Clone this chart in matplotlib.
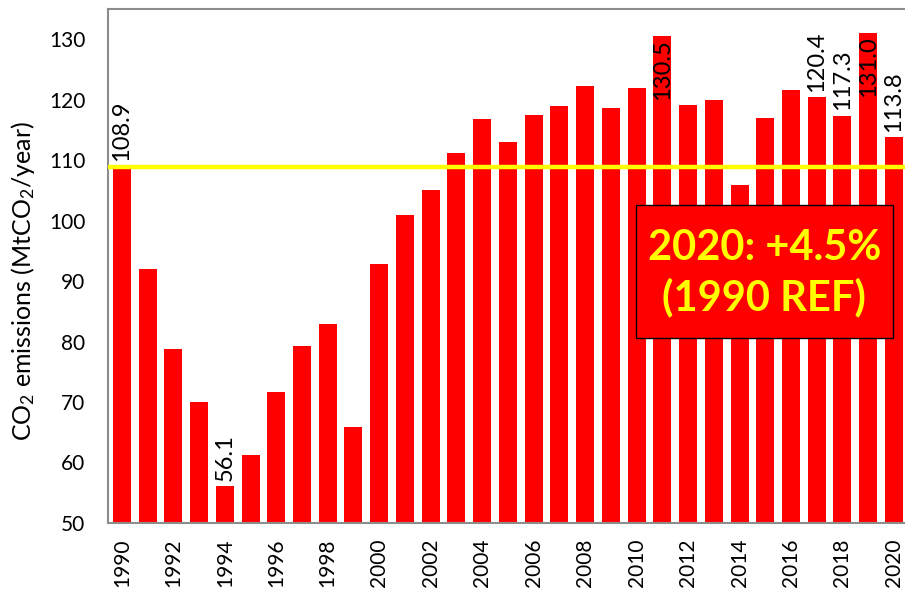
import matplotlib
matplotlib.use("Agg")
import matplotlib.pyplot as plt
import numpy as np

plt.rcParams['font.family'] = ['Lato', 'DejaVu Sans']
plt.rcParams['mathtext.fontset'] = 'custom'
plt.rcParams['mathtext.rm'] = 'Lato'
plt.rcParams['mathtext.it'] = 'Lato'

# --------------------------------------
# Data
# --------------------------------------
years = list(range(1990, 2021))
emissions = [108.9, 92.0, 78.8, 70.0, 56.1, 61.2, 71.7, 79.3, 82.9, 65.9,
             92.8, 100.9, 105.0, 111.1, 116.8, 113.0, 117.4, 118.9, 122.2, 118.6,
             121.9, 130.5, 119.1, 119.9, 105.9, 116.9, 121.6, 120.4, 117.3, 131.0,
             113.8]
labelled_years = [1990, 1994, 2011, 2017, 2018, 2019, 2020]
inside_label_years = [2011, 2019]
ref_value = 108.9
box_lines = ["2020: +4.5%", "(1990 REF)"]

# --------------------------------------
# Plot
# --------------------------------------
fig = plt.figure(figsize=(9.05, 5.92), dpi=100)
ax = fig.add_axes([0.119, 0.1166, 0.881, 0.8684])

x = np.arange(len(years))
ax.bar(x, emissions, width=0.7, color="#FF0000", zorder=2)
ax.axhline(ref_value, color="#FFFF00", linewidth=3.2, zorder=3)

for i, (yr, val) in enumerate(zip(years, emissions)):
    if yr not in labelled_years:
        continue
    if yr in inside_label_years:
        ax.text(i, val - 0.5, f"{val:.1f}", rotation=90, ha="center", va="top",
                fontsize=17, color="black", zorder=4)
    else:
        ax.text(i, val + 0.9, f"{val:.1f}", rotation=90, ha="center", va="bottom",
                fontsize=17, color="black", zorder=4)

ax.set_xlim(-0.55, len(years) - 0.57)
ax.set_ylim(50, 135)
ax.set_yticks(range(50, 131, 10))
ax.set_xticks(x[::2])
ax.set_xticklabels([str(y) for y in years[::2]], rotation=90)
ax.tick_params(axis="both", length=0, labelsize=15)
ax.tick_params(axis="x", pad=11)
ax.tick_params(axis="y", pad=16)

ax.set_ylabel(r"CO$_2$ emissions (MtCO$_2$/year)", fontsize=18)
ax.yaxis.set_label_coords(-0.089, 0.47)

for side in ["top", "left", "bottom"]:
    ax.spines[side].set_color("#8c8c8c")
    ax.spines[side].set_linewidth(1.5)
ax.spines["right"].set_visible(False)

# Annotation box
box = plt.Rectangle((0.662, 0.36), 0.323, 0.259, transform=ax.transAxes,
                    facecolor="#FF0000", edgecolor="black", linewidth=1, zorder=5)
ax.add_patch(box)
ax.text(0.8235, 0.535, box_lines[0], transform=ax.transAxes, ha="center", va="center",
        fontsize=30, fontweight="bold", color="#FFFF00", zorder=6)
ax.text(0.8235, 0.438, box_lines[1], transform=ax.transAxes, ha="center", va="center",
        fontsize=30, fontweight="bold", color="#FFFF00", zorder=6)

fig.savefig("out.png", dpi=100)
plt.close(fig)
